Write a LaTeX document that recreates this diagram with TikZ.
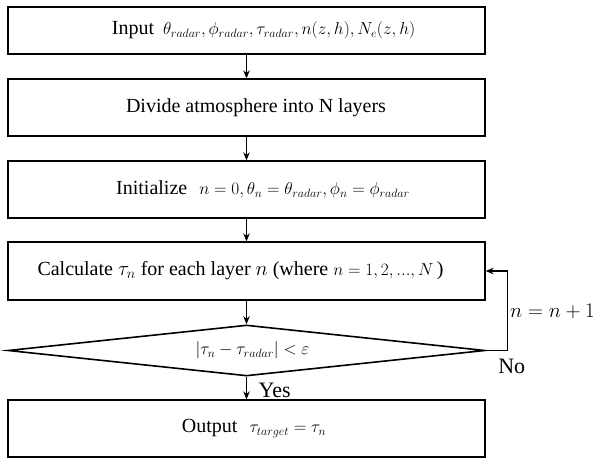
\documentclass[tikz,border=0pt]{standalone}
\usepackage[no-math]{fontspec}
\setmainfont{Liberation Serif}
\usetikzlibrary{shapes.geometric,arrows.meta,calc}
\newcommand{\mymath}[1]{{\fontsize{18}{22}\selectfont$#1$}}
\newcommand{\bigmath}[1]{{\fontsize{22}{26}\selectfont$#1$}}
\begin{document}
\begin{tikzpicture}[x=1pt,y=1pt,
  box/.style={draw=black,line width=1.3pt,rectangle,minimum width=477pt,inner sep=0pt,
    font=\fontsize{20}{24}\selectfont},
  dec/.style={draw=black,line width=1.6pt,diamond,aspect=9.35,minimum width=477pt,
    minimum height=51pt,inner sep=0pt},
  arr/.style={draw=black,line width=1.2pt,-{Stealth[length=8pt,width=6.5pt]}},
  lab/.style={font=\fontsize{22}{26}\selectfont,inner sep=0pt}]
\useasboundingbox (0,0) rectangle (595,-458);
\node[box,minimum height=47pt] (b1) at (246.5,-30.5)
  {\hspace*{34pt}Input\hspace{9pt}\mymath{\theta_{radar}, \phi_{radar}, \tau_{radar}, n(z,h), N_e(z,h)}};
\node[box,minimum height=57pt] (b2) at (246.5,-107.5)
  {\hspace*{19pt}Divide atmosphere into N layers};
\node[box,minimum height=57pt] (b3) at (246.5,-189.5)
  {\hspace*{33pt}Initialize\hspace{12pt}\mymath{n = 0, \theta_n = \theta_{radar}, \phi_n = \phi_{radar}}};
\node[box,minimum height=58pt] (b4) at (246.5,-271)
  {Calculate \bigmath{\tau_n} for each layer \bigmath{n} (where \mymath{n = 1, 2, ..., N}\,)\hspace*{12pt}};
\node[dec] (d) at (246.5,-350.5)
  {\hspace*{12pt}\mymath{|\tau_n - \tau_{radar}| < \varepsilon}};
\node[box,minimum height=57pt] (b5) at (246.5,-428.5)
  {\hspace*{15pt}Output\hspace{12pt}\mymath{\tau_{target} = \tau_n}};
\draw[arr] (b1) -- (b2);
\draw[arr] (b2) -- (b3);
\draw[arr] (b3) -- (b4);
\draw[arr] (b4) -- (d);
\draw[arr] (d) -- (b5);
\draw[arr] (d.east) -- ++(22,0) |- (b4.east);
\node[lab,anchor=west] (yes) at ($(d.south)+(12,-13.5)$) {Yes};
\node[lab] (no) at ($(d.east)+(26,-16)$) {No};
\node[anchor=west,inner sep=0pt] (inc) at (510,-311) {{\fontsize{19.5}{23}\selectfont$n = n+1$}};
\end{tikzpicture}
\end{document}
